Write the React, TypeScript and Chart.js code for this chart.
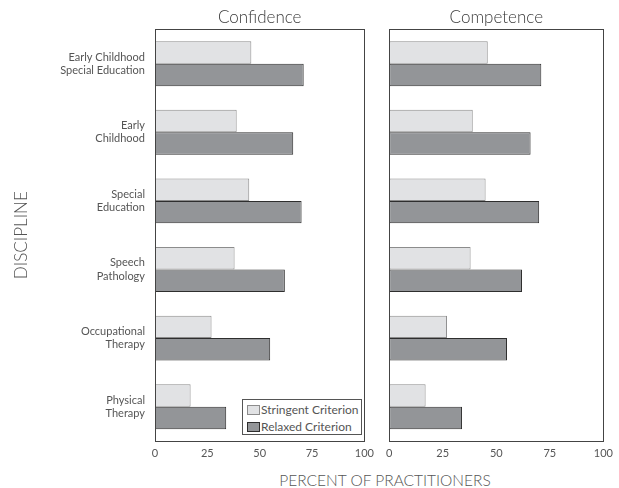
import React, { useEffect, useRef } from "react";
import { Chart, registerables } from "chart.js";

Chart.register(...registerables);

const categories: string[][] = [
  ["Early Childhood", "Special Education"],
  ["Early", "Childhood"],
  ["Special", "Education"],
  ["Speech", "Pathology"],
  ["Occupational", "Therapy"],
  ["Physical", "Therapy"],
];

const confidenceStringent = [46, 39, 45, 38, 27, 17];
const confidenceRelaxed = [71, 66, 70, 62, 55, 34];
const competenceStringent = [46, 39, 45, 38, 27, 17];
const competenceRelaxed = [71, 66, 70, 62, 55, 34];

const xTicks = [0, 25, 50, 75, 100];
const seriesNames = ["Stringent Criterion", "Relaxed Criterion"];

const FONT = "Lato, 'DejaVu Sans', sans-serif";
const TEXT = "#555555";
const STRINGENT_FILL = "#e1e2e4";
const STRINGENT_BORDER = "#8c8c8c";
const RELAXED_FILL = "#939598";
const RELAXED_BORDER = "#2e2e2e";

const framePlugin = {
  id: "frame",
  afterDatasetsDraw(chart: any) {
    const { ctx, chartArea } = chart;
    ctx.save();
    ctx.strokeStyle = "#444";
    ctx.lineWidth = 1;
    ctx.strokeRect(
      Math.round(chartArea.left) + 0.5,
      Math.round(chartArea.top) + 0.5,
      Math.round(chartArea.right - chartArea.left),
      Math.round(chartArea.bottom - chartArea.top)
    );
    ctx.restore();
  },
};

function makeConfig(
  title: string,
  stringent: number[],
  relaxed: number[],
  showY: boolean
): any {
  return {
    type: "bar",
    data: {
      labels: categories,
      datasets: [
        {
          label: seriesNames[0],
          data: stringent,
          backgroundColor: STRINGENT_FILL,
          borderColor: STRINGENT_BORDER,
          borderWidth: 1,
          borderSkipped: false,
          categoryPercentage: 0.655,
          barPercentage: 1,
        },
        {
          label: seriesNames[1],
          data: relaxed,
          backgroundColor: RELAXED_FILL,
          borderColor: RELAXED_BORDER,
          borderWidth: 1,
          borderSkipped: false,
          categoryPercentage: 0.655,
          barPercentage: 1,
        },
      ],
    },
    options: {
      indexAxis: "y",
      animation: false,
      responsive: false,
      maintainAspectRatio: false,
      layout: { padding: { left: 0, right: showY ? 12 : 14, top: 0, bottom: 0 } },
      plugins: {
        legend: { display: false },
        tooltip: { enabled: false },
        title: {
          display: true,
          text: title,
          fullSize: false,
          color: "#3a3a3a",
          font: { family: FONT, size: 17, weight: 300 },
          padding: { top: 7, bottom: 2 },
        },
      },
      scales: {
        x: {
          min: 0,
          max: 100,
          afterBuildTicks(scale: any) {
            scale.ticks = xTicks.map((v) => ({ value: v }));
          },
          afterFit(scale: any) {
            scale.height = 29;
          },
          grid: { display: false, drawTicks: false },
          border: { display: false },
          ticks: {
            color: TEXT,
            padding: 6,
            maxRotation: 0,
            font: { family: FONT, size: 11 },
          },
        },
        y: {
          afterFit(scale: any) {
            scale.width = showY ? 155 : 9;
          },
          grid: { display: false, drawTicks: false },
          border: { display: false },
          ticks: {
            display: showY,
            color: TEXT,
            padding: 10,
            crossAlign: "near",
            font: { family: FONT, size: 11, lineHeight: 1.2 },
          },
          title: {
            display: showY,
            text: "DISCIPLINE",
            color: TEXT,
            font: { family: FONT, size: 17, weight: 300 },
            padding: { top: 11, bottom: 0 },
          },
        },
      },
    },
    plugins: [framePlugin],
  };
}

function Panel(props: {
  left: number;
  width: number;
  title: string;
  stringent: number[];
  relaxed: number[];
  showY: boolean;
}) {
  const ref = useRef<HTMLCanvasElement | null>(null);
  useEffect(() => {
    if (!ref.current) return;
    const chart = new Chart(
      ref.current,
      makeConfig(props.title, props.stringent, props.relaxed, props.showY)
    );
    return () => chart.destroy();
  }, []);
  return (
    <canvas
      ref={ref}
      width={props.width}
      height={470}
      style={{
        position: "absolute",
        left: props.left,
        top: 0,
        width: props.width,
        height: 470,
      }}
    />
  );
}

function Swatch(props: { fill: string; border: string }) {
  return (
    <span
      style={{
        display: "inline-block",
        width: 11,
        height: 8,
        background: props.fill,
        border: `1px solid ${props.border}`,
        marginRight: 1,
        verticalAlign: "middle",
        position: "relative",
        top: -1,
      }}
    />
  );
}

export default function App() {
  return (
    <div
      style={{
        position: "absolute",
        left: 0,
        top: 0,
        width: 619,
        height: 488,
        background: "#fff",
        fontFamily: FONT,
        overflow: "hidden",
      }}
    >
      <Panel
        left={0}
        width={380}
        title="Confidence"
        stringent={confidenceStringent}
        relaxed={confidenceRelaxed}
        showY={true}
      />
      <Panel
        left={380}
        width={239}
        title="Competence"
        stringent={competenceStringent}
        relaxed={competenceRelaxed}
        showY={false}
      />
      <div
        style={{
          position: "absolute",
          left: 242,
          top: 399,
          width: 120,
          height: 36,
          border: "1px solid #555",
          background: "#fff",
          color: TEXT,
          fontSize: 12,
          lineHeight: "14px",
          padding: "3px 0 0 4px",
          boxSizing: "border-box",
          whiteSpace: "nowrap",
        }}
      >
        <div>
          <Swatch fill={STRINGENT_FILL} border={STRINGENT_BORDER} />
          {seriesNames[0]}
        </div>
        <div style={{ marginTop: 3 }}>
          <Swatch fill={RELAXED_FILL} border={RELAXED_BORDER} />
          {seriesNames[1]}
        </div>
      </div>
      <div
        style={{
          position: "absolute",
          left: 185,
          top: 471,
          width: 400,
          textAlign: "center",
          color: TEXT,
          fontSize: 15.5,
          fontWeight: 300,
          lineHeight: "18px",
        }}
      >
        PERCENT OF PRACTITIONERS
      </div>
    </div>
  );
}
